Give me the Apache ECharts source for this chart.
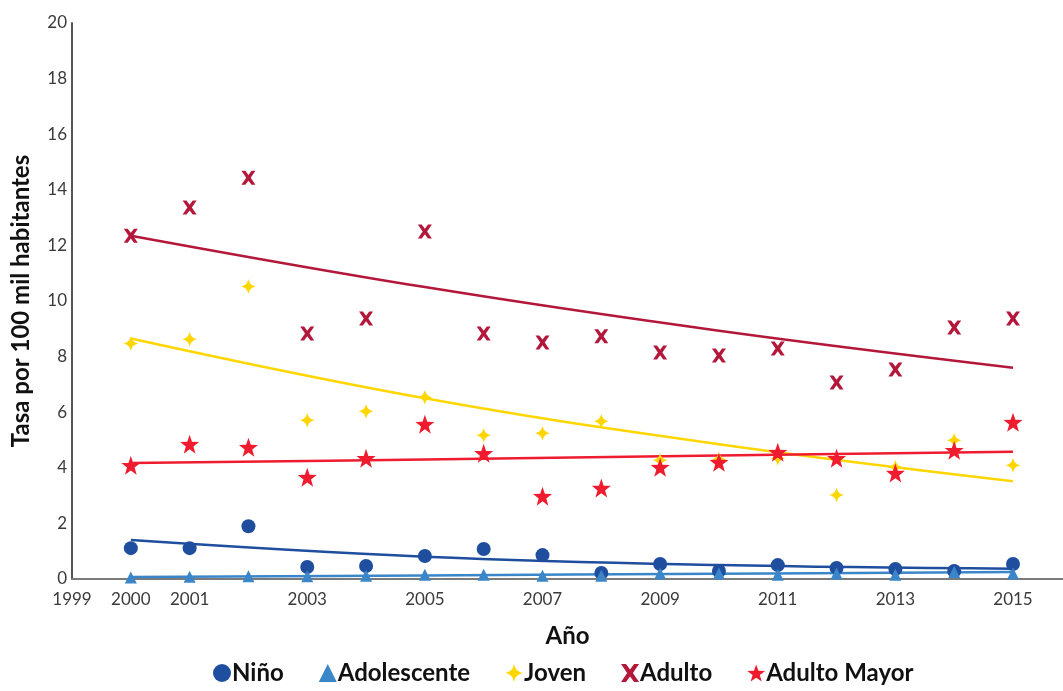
<!DOCTYPE html>
<html>
<head>
<meta charset="utf-8">
<script src="https://cdn.jsdelivr.net/npm/echarts@6/dist/echarts.min.js"></script>
<style>
  html, body { margin: 0; padding: 0; background: #fff; }
  #chart { width: 1063px; height: 691px; }
</style>
</head>
<body>
<div id="chart"></div>
<script>
// Years of observation
const years = [2000, 2001, 2002, 2003, 2004, 2005, 2006, 2007, 2008, 2009, 2010, 2011, 2012, 2013, 2014, 2015];

// Rates per 100 thousand inhabitants, by age group
const nino        = [1.11, 1.11, 1.90, 0.43, 0.47, 0.83, 1.08, 0.86, 0.22, 0.54, 0.29, 0.50, 0.40, 0.36, 0.29, 0.54];
const adolescente = [0.05, 0.08, 0.10, 0.10, 0.12, 0.15, 0.15, 0.12, 0.12, 0.20, 0.20, 0.15, 0.20, 0.15, 0.25, 0.20];
const joven       = [8.47, 8.62, 10.52, 5.71, 6.03, 6.54, 5.17, 5.24, 5.67, 4.27, 4.31, 4.34, 3.02, 4.02, 4.99, 4.09];
const adulto      = [12.35, 13.36, 14.43, 8.83, 9.37, 12.50, 8.83, 8.51, 8.73, 8.15, 8.04, 8.29, 7.07, 7.54, 9.05, 9.37];
const adultoMayor = [4.09, 4.85, 4.74, 3.66, 4.34, 5.57, 4.52, 2.98, 3.27, 4.02, 4.20, 4.56, 4.34, 3.81, 4.63, 5.64];

// Trend lines, sampled at these years
const trendYears       = [2000, 2005, 2010, 2015];
const trendNino        = [1.40, 0.80, 0.50, 0.37];
const trendAdolescente = [0.07, 0.13, 0.19, 0.25];
const trendJoven       = [8.65, 6.50, 4.85, 3.52];
const trendAdulto      = [12.35, 10.50, 8.93, 7.60];
const trendAdultoMayor = [4.17, 4.30, 4.44, 4.58];

// Y axis ticks
const yTicks = [0, 2, 4, 6, 8, 10, 12, 14, 16, 18, 20];

const pair = (xs, ys) => xs.map((x, i) => [x, ys[i]]);

// Marker shapes
const SPARKLE = 'path://M0,-10 C1.8,-3.5 3.5,-1.8 10,0 C3.5,1.8 1.8,3.5 0,10 C-1.8,3.5 -3.5,1.8 -10,0 C-3.5,-1.8 -1.8,-3.5 0,-10 Z';
const CROSS = 'path://M-10,-10 L-4.5,-10 L0,-4 L4.5,-10 L10,-10 L3.2,0 L10,10 L4.5,10 L0,4 L-4.5,10 L-10,10 L-3.2,0 Z';
const STAR = 'path://M0,-10 L2.35,-3.24 L9.51,-3.09 L3.8,1.24 L5.88,8.09 L0,4 L-5.88,8.09 L-3.8,1.24 L-9.51,-3.09 L-2.35,-3.24 Z';

const colors = {
  nino: '#1F4E9E',
  adolescente: '#3A86C8',
  joven: '#FFD600',
  adulto: '#B3173A',
  adultoMayor: '#EE1C2E'
};

const groups = [
  { name: 'Niño', data: nino, trend: trendNino, color: colors.nino, symbol: 'circle', size: 14 },
  { name: 'Adolescente', data: adolescente, trend: trendAdolescente, color: colors.adolescente, symbol: 'triangle', size: 12 },
  { name: 'Joven', data: joven, trend: trendJoven, color: colors.joven, symbol: SPARKLE, size: 15 },
  { name: 'Adulto', data: adulto, trend: trendAdulto, color: colors.adulto, symbol: CROSS, size: 14 },
  { name: 'Adulto Mayor', data: adultoMayor, trend: trendAdultoMayor, color: colors.adultoMayor, symbol: STAR, size: 19 }
];

const series = [];
// trend lines first so markers sit on top
groups.forEach(g => {
  series.push({
    name: g.name + ' tendencia',
    type: 'line',
    data: pair(trendYears, g.trend),
    smooth: 0.4,
    showSymbol: false,
    silent: true,
    lineStyle: { color: g.color, width: 2.5 },
    z: 2
  });
});
groups.forEach(g => {
  series.push({
    name: g.name,
    type: 'scatter',
    data: pair(years, g.data),
    symbol: g.symbol,
    symbolSize: g.size,
    itemStyle: { color: g.color, opacity: 1 },
    z: 3
  });
});

const chart = echarts.init(document.getElementById('chart'), null, { renderer: 'canvas' });
chart.setOption({
  animation: false,
  backgroundColor: '#ffffff',
  textStyle: { fontFamily: 'Lato, "Open Sans", sans-serif' },
  grid: { left: 72, right: 0, top: 23, bottom: 112, containLabel: false, outerBoundsMode: 'none' },
  legend: {
    bottom: 1,
    left: 208,
    itemGap: 35,
    itemWidth: 18,
    itemHeight: 18,
    data: groups.map(g => ({ name: g.name, icon: g.symbol, itemStyle: { color: g.color } })),
    textStyle: { fontSize: 24, fontWeight: 'bold', color: '#111', fontFamily: 'Lato, sans-serif', padding: [0, 0, 0, -4] }
  },
  xAxis: {
    type: 'value',
    min: 1999,
    max: 2015.85,
    interval: 1,
    name: 'Año',
    nameLocation: 'middle',
    nameGap: 45,
    nameTextStyle: { fontSize: 24, fontWeight: 'bold', color: '#111', fontFamily: 'Lato, sans-serif' },
    axisLine: { lineStyle: { color: '#7a7a7a', width: 2 } },
    axisTick: { show: false },
    splitLine: { show: false },
    axisLabel: {
      fontSize: 17,
      color: '#3a3a3a',
      margin: 12,
      showMaxLabel: false,
      formatter: v => (v <= 2001 || v % 2 === 1) && v <= 2015 ? String(v) : ''
    }
  },
  yAxis: {
    type: 'value',
    min: yTicks[0],
    max: yTicks[yTicks.length - 1],
    interval: 2,
    name: 'Tasa por 100 mil habitantes',
    nameLocation: 'middle',
    nameGap: 39,
    nameTextStyle: { fontSize: 24, fontWeight: 'bold', color: '#111', fontFamily: 'Lato, sans-serif' },
    axisLine: { show: true, lineStyle: { color: '#555', width: 2 } },
    axisTick: { show: false },
    splitLine: { show: false },
    axisLabel: { fontSize: 17, color: '#3a3a3a', margin: 5 }
  },
  series: series
});
</script>
</body>
</html>
